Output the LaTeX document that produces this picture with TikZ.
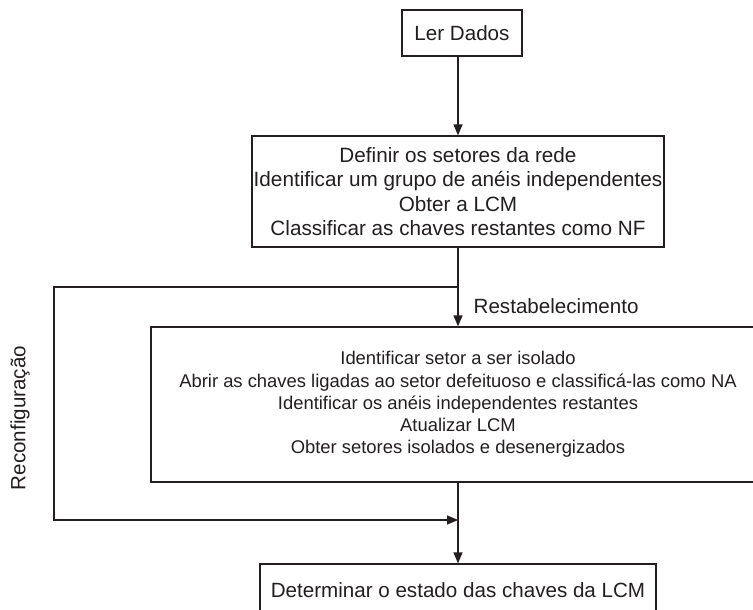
\documentclass[tikz,border=0pt]{standalone}
\usepackage{fontspec}
\setmainfont{Liberation Sans}
\usetikzlibrary{arrows.meta}
\begin{document}
\begin{tikzpicture}[x=1pt,y=-1pt,
  line width=1.3pt, draw={rgb,255:red,35;green,31;blue,32},
  every node/.style={text={rgb,255:red,35;green,31;blue,32}},
  arr/.style={-{Triangle[length=11pt,width=9pt]}},
  boxa/.style={draw, align=center, inner sep=0pt},
  bigfont/.style={font=\fontsize{20.6}{24.5}\selectfont},
  midfont/.style={font=\fontsize{20.7}{24.5}\selectfont},
  smallfont/.style={font=\fontsize{18.4}{22.2}\selectfont}]
\clip (0,0) rectangle (753,610);
\fill[white] (0,0) rectangle (753,610);
\node[boxa, bigfont, minimum width=120pt, minimum height=46pt] (ler) at (462,33) {Ler Dados};
\node[boxa, midfont, minimum width=412pt, minimum height=111pt] (b2) at (458,191.5)
  {Definir os setores da rede\\Identificar um grupo de anéis independentes\\Obter a LCM\\Classificar as chaves restantes como NF};
\node[boxa, smallfont, minimum width=614pt, minimum height=155pt] (b3) at (458,404.5)
  {Identificar setor a ser isolado\\Abrir as chaves ligadas ao setor defeituoso e classificá-las como NA\\Identificar os anéis independentes restantes\\Atualizar LCM\\Obter setores isolados e desenergizados};
\node[boxa, bigfont, minimum width=396pt, minimum height=52pt] (b4) at (458,590)
  {Determinar o estado das chaves da LCM};
\node[bigfont, anchor=west, inner sep=0pt] (rest) at (473,306) {Restabelecimento};
\node[bigfont, rotate=90, inner sep=0pt] (reco) at (20,418) {Reconfiguração};
\coordinate (split) at (458,287);
\coordinate (tl) at (54,287);
\coordinate (bl) at (54,520);
\coordinate (join) at (458,520);
\draw[arr] (ler.south -| b2.north) -- (b2.north);
\draw[arr] (b2.south) -- (b3.north);
\draw[arr] (split) -- (tl) -- (bl) -- (join);
\draw[arr] (b3.south) -- (b4.north);
\end{tikzpicture}
\end{document}
